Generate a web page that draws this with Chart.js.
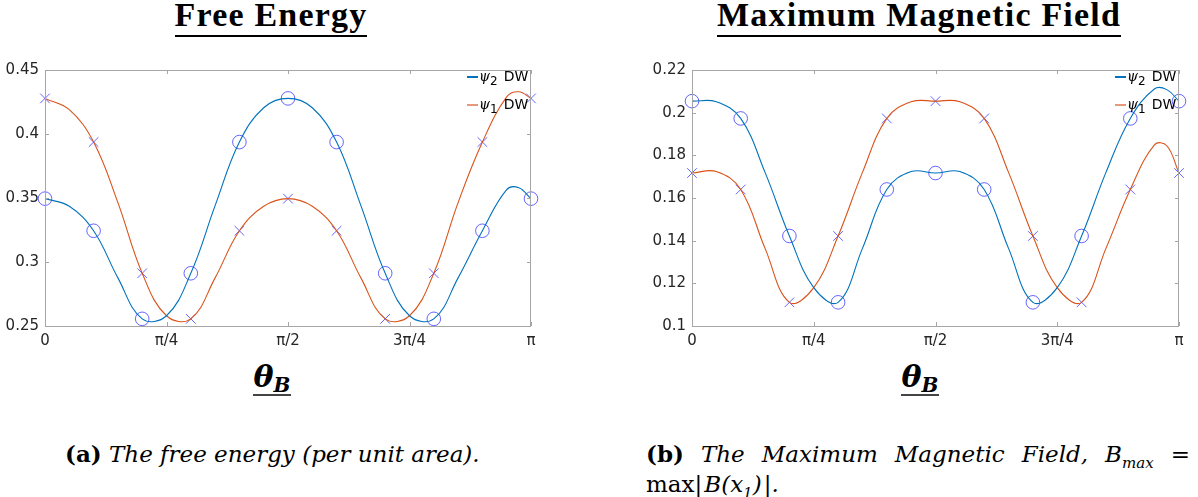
<!DOCTYPE html>
<html>
<head>
<meta charset="utf-8">
<script src="https://cdn.jsdelivr.net/npm/chart.js@4.4.0/dist/chart.umd.min.js"></script>
<style>
body { margin: 0; background: #fff; }
#page { position: relative; width: 1198px; height: 497px; overflow: hidden; }
canvas { position: absolute; top: 55px; }
.title { position: absolute; top: -2px; font: bold 34px "Liberation Serif", serif; line-height: 34px; letter-spacing: 1.2px; text-align: center; color: #000; }
.title span { border-bottom: 2px solid #000; padding-bottom: 2px; }
.xlab { position: absolute; top: 360px; text-align: center; font: italic bold 30px "DejaVu Serif", serif; line-height: 34px; }
.xlab span { border-bottom: 2px solid #444; padding: 0 1px 0 1px; }
.xlab sub { font-size: 20px; vertical-align: -5px; }
.leg { position: absolute; font: 14px "DejaVu Sans", sans-serif; color: #000; line-height: 23px; white-space: nowrap; }
.leg .ln { display: inline-block; width: 11px; height: 1.5px; vertical-align: middle; margin-right: 1px; }
.leg i { font: italic 14px "DejaVu Serif", serif; }
.leg sub { font-size: 12px; vertical-align: -4px; margin-right: 6px; }
.cap { position: absolute; font: italic 23px "DejaVu Serif", serif; color: #000; line-height: 31px; white-space: nowrap; }
.cap b { font-style: normal; }
.cap sub { font-size: 15px; }
</style>
</head>
<body>
<div id="page">
  <div class="title" style="left:0px;width:542px"><span>Free Energy</span></div>
  <div class="title" style="left:648px;width:542px"><span>Maximum Magnetic Field</span></div>

  <canvas id="freeEnergy" width="560" height="300" style="left:0px;width:560px;height:300px"></canvas>
  <canvas id="maxField" width="558" height="300" style="left:640px;width:558px;height:300px"></canvas>

  <div class="leg" style="left:467px;top:65px">
    <div><span class="ln" style="background:#0072BD"></span><i>ψ</i><sub>2</sub>DW</div>
    <div><span class="ln" style="background:#E8987A;height:2.5px"></span><i>ψ</i><sub>1</sub>DW</div>
  </div>
  <div class="leg" style="left:1115px;top:65px">
    <div><span class="ln" style="background:#0072BD"></span><i>ψ</i><sub>2</sub>DW</div>
    <div><span class="ln" style="background:#E8987A;height:2.5px"></span><i>ψ</i><sub>1</sub>DW</div>
  </div>

  <div class="xlab" style="left:0px;width:544px"><span>θ<sub>B</sub></span></div>
  <div class="xlab" style="left:648px;width:544px"><span>θ<sub>B</sub></span></div>

  <div class="cap" style="left:65px;top:438px"><b>(a)</b> The free energy (per unit area).</div>
  <div class="cap" style="left:646px;top:438px;width:544px;white-space:normal;text-align:justify;text-align-last:justify"><b>(b)</b> The Maximum Magnetic Field, B<sub>max</sub> =</div>
  <div class="cap" style="left:646px;top:469px"><span style="font-style:normal">max</span>|<span style="margin-left:2px">B</span>(x<sub>1</sub>)<span style="margin-left:2px">|</span>.</div>
</div>

<script>
// theta values in units of pi
const markerTheta = [0, 0.1, 0.2, 0.3, 0.4, 0.5, 0.6, 0.7, 0.8, 0.9, 1];
const curveTheta = [0, 0.05, 0.1, 0.15, 0.2, 0.25, 0.3, 0.35, 0.4, 0.45, 0.5, 0.55, 0.6, 0.65, 0.7, 0.75, 0.8, 0.85, 0.9, 0.95, 0.975, 1];

const xTickValues = [0, 0.25, 0.5, 0.75, 1];
const xTickLabels = ['0', 'π/4', 'π/2', '3π/4', 'π'];

// free energy
const energyPsi2Markers = [0.3495, 0.3244, 0.2556, 0.2912, 0.3937, 0.4278, 0.3937, 0.2912, 0.2556, 0.3244, 0.3495];
const energyPsi1Markers = [0.4278, 0.3937, 0.2912, 0.2556, 0.3244, 0.3495, 0.3244, 0.2556, 0.2912, 0.3937, 0.4278];
const energyPsi2Curve = [0.3495, 0.3435, 0.3244, 0.2876, 0.2556, 0.258, 0.2912, 0.344, 0.3937, 0.4205, 0.4278, 0.4205, 0.3937, 0.344, 0.2912, 0.258, 0.2556, 0.2876, 0.3244, 0.3565, 0.358, 0.3495];
const energyPsi1Curve = [0.4278, 0.419, 0.3937, 0.3464, 0.2912, 0.258, 0.2556, 0.2876, 0.3244, 0.3435, 0.3495, 0.3435, 0.3244, 0.2876, 0.2556, 0.258, 0.2912, 0.3464, 0.3937, 0.429, 0.433, 0.4278];

// maximum magnetic field
const fieldPsi2Markers = [0.2054, 0.1973, 0.1422, 0.1111, 0.164, 0.1717, 0.164, 0.1111, 0.1422, 0.1973, 0.2054];
const fieldPsi1Markers = [0.1717, 0.164, 0.1111, 0.1422, 0.1973, 0.2054, 0.1973, 0.1422, 0.1111, 0.164, 0.1717];
const fieldPsi2Curve = [0.2054, 0.2051, 0.1973, 0.172, 0.1422, 0.118, 0.1111, 0.1364, 0.164, 0.1724, 0.1717, 0.1724, 0.164, 0.1364, 0.1111, 0.118, 0.1422, 0.172, 0.1973, 0.2112, 0.2108, 0.2054];
const fieldPsi1Curve = [0.1717, 0.1724, 0.164, 0.1364, 0.1111, 0.118, 0.1422, 0.172, 0.1973, 0.2051, 0.2054, 0.2051, 0.1973, 0.172, 0.1422, 0.118, 0.1111, 0.1364, 0.164, 0.185, 0.1845, 0.1717];

const BLUE = '#0072BD';
const ORANGE = '#D95319';
const MARK = 'rgba(50,50,255,0.75)';

function pts(xs, ys) {
    return xs.map((x, i) => ({ x: x, y: ys[i] }));
}

// box round the plot and small inward ticks, like matlab
const boxPlugin = {
    id: 'box',
    afterDraw(chart) {
        const a = chart.chartArea;
        const ctx = chart.ctx;
        ctx.save();
        ctx.strokeStyle = '#a6a6a6';
        ctx.lineWidth = 1;
        ctx.strokeRect(a.left + 0.5, a.top + 0.5, a.right - a.left - 1, a.bottom - a.top);
        ctx.beginPath();
        chart.scales.x.ticks.forEach(t => {
            const px = Math.round(chart.scales.x.getPixelForValue(t.value)) + 0.5;
            ctx.moveTo(px, a.bottom); ctx.lineTo(px, a.bottom - 4);
            ctx.moveTo(px, a.top); ctx.lineTo(px, a.top + 4);
        });
        chart.scales.y.ticks.forEach(t => {
            const py = Math.round(chart.scales.y.getPixelForValue(t.value)) + 0.5;
            ctx.moveTo(a.left, py); ctx.lineTo(a.left + 4, py);
            ctx.moveTo(a.right, py); ctx.lineTo(a.right - 4, py);
        });
        ctx.stroke();
        ctx.restore();
    }
};

function buildChart(id, psi2Curve, psi1Curve, psi2Markers, psi1Markers, yMin, yMax, yStep, yWidth, rightPad) {
    const canvas = document.getElementById(id);
    return new Chart(canvas, {
        type: 'scatter',
        data: {
            datasets: [
                { label: 'psi2 DW', data: pts(curveTheta, psi2Curve), showLine: true, tension: 0.4,
                  borderColor: BLUE, borderWidth: 1.1, pointRadius: 0 },
                { label: 'psi1 DW', data: pts(curveTheta, psi1Curve), showLine: true, tension: 0.4,
                  borderColor: ORANGE, borderWidth: 1.1, pointRadius: 0 },
                { label: 'psi2 points', data: pts(markerTheta, psi2Markers), pointStyle: 'circle',
                  pointRadius: 6.8, borderColor: MARK, backgroundColor: 'rgba(0,0,0,0)', borderWidth: 1, clip: false },
                { label: 'psi1 points', data: pts(markerTheta, psi1Markers), pointStyle: 'crossRot',
                  pointRadius: 6.8, borderColor: MARK, borderWidth: 1, clip: false }
            ]
        },
        options: {
            responsive: false,
            animation: false,
            layout: { padding: { top: 10, right: rightPad, left: 0, bottom: 0 } },
            plugins: { legend: { display: false }, tooltip: { enabled: false } },
            scales: {
                x: {
                    type: 'linear', min: 0, max: 1,
                    afterBuildTicks: s => { s.ticks = xTickValues.map(v => ({ value: v })); },
                    afterFit: s => { s.height = 29; },
                    grid: { display: false, drawTicks: false, tickLength: 0 },
                    border: { display: false },
                    ticks: {
                        color: '#262626', padding: 6, maxRotation: 0,
                        font: { family: 'DejaVu Sans', size: 15 },
                        callback: v => xTickLabels[xTickValues.indexOf(v)]
                    }
                },
                y: {
                    min: yMin, max: yMax,
                    afterFit: s => { s.width = yWidth; },
                    grid: { display: false, drawTicks: false, tickLength: 0 },
                    border: { display: false },
                    ticks: {
                        stepSize: yStep, color: '#262626', padding: 6,
                        font: { family: 'DejaVu Sans', size: 15 },
                        callback: v => String(+v.toFixed(2))
                    }
                }
            }
        },
        plugins: [boxPlugin]
    });
}

buildChart('freeEnergy', energyPsi2Curve, energyPsi1Curve, energyPsi2Markers, energyPsi1Markers, 0.25, 0.45, 0.05, 45, 29);
buildChart('maxField', fieldPsi2Curve, fieldPsi1Curve, fieldPsi2Markers, fieldPsi1Markers, 0.1, 0.22, 0.02, 52, 19);
</script>
</body>
</html>
